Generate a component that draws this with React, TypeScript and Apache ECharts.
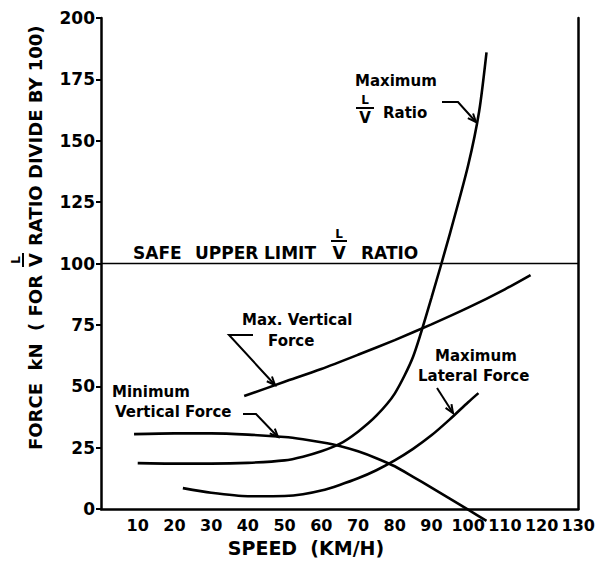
import React, { useEffect, useRef } from "react";
import * as echarts from "echarts";

// ---- data ----
const xTicksMin = 0;
const xTicksMax = 130;
const yTicksMin = 0;
const yTicksMax = 200;

const lvSpeed = [10, 20, 30, 40, 50, 55, 60, 65, 70, 75, 80, 85, 90, 95, 100, 103, 105];
const lvRatio = [18.7, 18.5, 18.5, 18.8, 19.8, 21.3, 23.5, 26.5, 31.5, 38, 47, 62, 86, 112, 140, 162, 186];

const maxVertSpeed = [39, 50, 60, 70, 80, 90, 100, 110, 117];
const maxVertForce = [46, 51.8, 57, 62.8, 68.8, 75.2, 82, 89.5, 95.3];

const minVertSpeed = [9, 20, 30, 40, 50, 55, 60, 65, 70, 75, 80, 85, 90, 95, 100, 105];
const minVertForce = [30.5, 30.8, 30.8, 30.3, 29.3, 28.4, 27.2, 25.7, 23.5, 20.7, 17.4, 13.1, 8.7, 4.2, -0.3, -4.8];

const maxLatSpeed = [22.3, 30, 40, 50, 55, 60, 65, 70, 75, 80, 85, 90, 95, 100, 102.8];
const maxLatForce = [8.5, 6.6, 5.2, 5.3, 6, 7.5, 9.8, 12.5, 15.8, 19.8, 24.5, 30, 36.5, 43.5, 47.2];

const safeLimitSpeed = [0, 130];
const safeLimitValue = [100, 100];

const FONT = "DejaVu Sans";

function zip(a: number[], b: number[]) {
  return a.map((v, i) => [v, b[i]]);
}

function txt(text: string, x: number, y: number, size: number, align = "left") {
  return {
    type: "text",
    x,
    y,
    style: {
      text,
      fill: "#000",
      fontSize: size,
      fontWeight: "bold",
      fontFamily: FONT,
      textAlign: align,
      textVerticalAlign: "middle",
    },
    silent: true,
  };
}

function arrow(pts: number[][]) {
  const n = pts.length;
  const [x1, y1] = pts[n - 2];
  const [x2, y2] = pts[n - 1];
  const ang = Math.atan2(y2 - y1, x2 - x1);
  const L = 9;
  const a = 0.4;
  const h1 = [x2 - L * Math.cos(ang - a), y2 - L * Math.sin(ang - a)];
  const h2 = [x2 - L * Math.cos(ang + a), y2 - L * Math.sin(ang + a)];
  return [
    { type: "polyline", shape: { points: pts }, style: { stroke: "#000", lineWidth: 2, fill: "none" }, silent: true },
    { type: "polyline", shape: { points: [h1, [x2, y2], h2] }, style: { stroke: "#000", lineWidth: 2, fill: "none" }, silent: true },
  ];
}

function fraction(cx: number, yL: number, yBar: number, yV: number, sizeL: number, sizeV: number, w: number) {
  return [
    txt("L", cx, yL, sizeL, "center"),
    { type: "line", shape: { x1: cx - w / 2, y1: yBar, x2: cx + w / 2, y2: yBar }, style: { stroke: "#000", lineWidth: 2 }, silent: true },
    txt("V", cx, yV, sizeV, "center"),
  ];
}

export default function App() {
  const ref = useRef<HTMLDivElement>(null);
  useEffect(() => {
    if (!ref.current) return;
    const chart = echarts.init(ref.current, undefined, { renderer: "svg" });
    const curve = {
      type: "line",
      symbol: "none",
      smooth: 0.25,
      lineStyle: { color: "#000", width: 2.6 },
      z: 3,
    };
    const option: any = {
      animation: false,
      backgroundColor: "#fff",
      grid: { left: 101, right: 18, top: 18, bottom: 53, containLabel: false },
      xAxis: {
        type: "value",
        min: xTicksMin,
        max: xTicksMax,
        interval: 10,
        axisLine: { show: true, onZero: false, lineStyle: { color: "#000", width: 2.5 } },
        axisTick: { show: false },
        splitLine: { show: false },
        axisLabel: {
          color: "#000",
          fontFamily: FONT,
          fontWeight: "bold",
          fontSize: 16,
          margin: 8,
          formatter: (v: number) => (v === 0 ? "" : String(v)),
        },
      },
      yAxis: [
        {
          type: "value",
          min: yTicksMin,
          max: yTicksMax,
          interval: 25,
          axisLine: { show: true, lineStyle: { color: "#000", width: 2.5 } },
          axisTick: { show: true, inside: false, length: 5, lineStyle: { color: "#000", width: 2 } },
          splitLine: { show: false },
          axisLabel: { color: "#000", fontFamily: FONT, fontWeight: "bold", fontSize: 17, margin: 6 },
        },
        {
          type: "value",
          position: "right",
          min: yTicksMin,
          max: yTicksMax,
          interval: 25,
          axisLine: { show: true, lineStyle: { color: "#000", width: 2.5 } },
          axisTick: { show: false },
          axisLabel: { show: false },
          splitLine: { show: false },
        },
      ],
      series: [
        { ...curve, name: "Maximum L/V Ratio", data: zip(lvSpeed, lvRatio) },
        { ...curve, name: "Max. Vertical Force", data: zip(maxVertSpeed, maxVertForce) },
        { ...curve, name: "Minimum Vertical Force", clip: false, data: zip(minVertSpeed, minVertForce) },
        { ...curve, name: "Maximum Lateral Force", data: zip(maxLatSpeed, maxLatForce) },
        {
          type: "line",
          name: "Safe upper limit",
          symbol: "none",
          lineStyle: { color: "#000", width: 1.6 },
          data: zip(safeLimitSpeed, safeLimitValue),
        },
      ],
      graphic: [
        // y axis title (rotated)
        {
          type: "group",
          x: 35,
          y: 450,
          rotation: Math.PI / 2,
          children: [
            txt("FORCE  kN  ( FOR", 0, 0, 18),
            ...fraction(190, -19, -12, 0, 12, 18, 14),
            txt("RATIO DIVIDE BY 100)", 204, 0, 18),
          ],
        },
        // x axis title
        txt("SPEED  (KM/H)", 306, 548, 19, "center"),
        // safe upper limit label
        txt("SAFE", 133, 253, 17),
        txt("UPPER", 195, 253, 17),
        txt("LIMIT", 264, 253, 17),
        ...fraction(339, 234, 241, 253, 12, 17, 16),
        txt("RATIO", 361, 253, 17),
        // Maximum L/V Ratio
        txt("Maximum", 355, 81, 15),
        ...fraction(365, 100, 108, 118, 12, 15, 18),
        txt("Ratio", 383, 113, 15),
        ...arrow([[442, 102], [458, 102], [476, 122]]),
        // Max. Vertical Force
        txt("Max. Vertical", 242, 320, 15),
        txt("Force", 268, 341, 15),
        ...arrow([[253, 335], [229, 335], [275, 385]]),
        // Minimum Vertical Force
        txt("Minimum", 112, 392, 15),
        txt("Vertical Force", 115, 412, 15),
        ...arrow([[243, 414], [256, 414], [278, 437]]),
        // Maximum Lateral Force
        txt("Maximum", 435, 356, 15),
        txt("Lateral Force", 418, 376, 15),
        ...arrow([[437, 388], [453, 413]]),
      ],
    };
    chart.setOption(option);
    return () => chart.dispose();
  }, []);
  return <div ref={ref} style={{ position: "absolute", left: 0, top: 0, width: 598, height: 562 }} />;
}
